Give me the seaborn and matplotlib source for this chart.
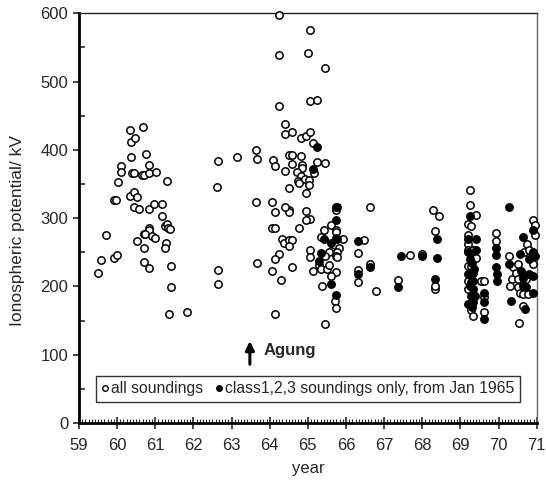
import numpy as np
import pandas as pd
import matplotlib
matplotlib.use("Agg")
import matplotlib.pyplot as plt
import seaborn as sns
from matplotlib.lines import Line2D
from matplotlib.ticker import MultipleLocator

# ---- data: all soundings (open circles) ----
open_year = [
    59.50, 59.57, 59.70, 59.91, 60.00, 59.91, 59.96, 60.02, 60.09, 60.10, 60.33, 60.37, 60.46, 60.67,
    60.36, 60.40, 60.43, 60.35, 60.44, 60.53, 60.45, 60.58, 60.66, 60.70, 60.75, 60.83, 60.83, 61.01,
    60.83, 60.96, 61.18, 61.30, 61.17, 61.26, 61.30, 61.33, 61.39, 60.83, 60.83, 60.70, 60.74, 60.91,
    61.00, 60.53, 60.71, 61.27, 61.25, 60.71, 60.83, 61.41, 61.41, 61.35, 61.82, 62.64, 62.62, 62.64,
    62.64,
    63.13, 63.64, 63.67, 63.65, 63.67, 64.05, 64.15, 64.06, 64.15, 64.25, 64.15, 64.06, 64.30, 64.15,
    64.08, 64.15, 64.24, 64.24, 64.24, 64.39, 64.39, 64.58, 64.83, 64.94, 65.06, 65.06, 65.00, 65.45,
    65.06, 65.24, 65.13, 64.51, 64.58, 64.58, 64.83, 64.84, 64.84, 65.25, 65.45, 65.15, 64.39, 64.72,
    64.82, 64.75, 64.78, 64.92, 65.04, 65.04, 64.96, 64.51, 64.51, 64.51, 64.39, 64.96, 65.06, 64.96,
    64.78, 64.33, 64.38, 64.51, 64.58, 64.51, 64.58, 65.06, 65.06, 65.13, 65.45,
    65.73, 65.42, 65.60, 65.73, 65.73, 65.34, 65.93, 65.82, 65.60, 65.56, 65.77, 65.73, 65.77, 65.44,
    65.28, 65.34, 65.51, 65.56, 65.73, 65.60, 65.36, 65.71, 65.73,
    66.47, 66.32, 66.32, 66.32, 66.63, 66.64, 66.78, 67.68, 67.99, 67.36, 68.27, 68.45, 68.33, 68.34,
    68.33,
    69.26, 69.26, 69.40, 69.20, 69.29, 69.20, 69.20, 69.20, 69.24, 69.33, 69.40, 69.20, 69.29, 69.20,
    69.20, 69.29, 69.33, 69.55, 69.62, 69.62, 69.62, 69.92, 69.92, 70.27, 70.36, 70.29, 70.53,
    70.39, 70.51, 70.68, 70.74, 70.81, 70.89, 70.89, 70.46, 70.50, 70.72, 70.50, 70.55, 70.63, 70.76,
    70.63, 70.95, 70.95,
]
open_kv = [
    220, 239, 276, 242, 246, 327, 327, 353, 376, 367, 429, 411, 418, 434,
    390, 366, 366, 333, 339, 331, 316, 313, 363, 363, 394, 378, 366, 367,
    314, 320, 321, 354, 303, 288, 292, 286, 284, 286, 282, 277, 277, 274,
    271, 266, 257, 264, 257, 236, 227, 230, 199, 160, 163, 383, 345, 224,
    203,
    390, 400, 386, 323, 235, 323, 309, 286, 286, 248, 240, 222, 210, 159,
    385, 377, 598, 539, 464, 438, 423, 426, 417, 420, 426, 576, 542, 520,
    471, 473, 410, 392, 392, 380, 391, 378, 373, 382, 381, 366, 369, 367,
    361, 355, 351, 357, 356, 348, 337, 344, 312, 309, 316, 310, 299, 297,
    286, 270, 264, 268, 268, 259, 228, 253, 243, 222, 145,
    312, 283, 290, 283, 279, 272, 270, 257, 252, 251, 251, 245, 243, 245,
    232, 225, 225, 232, 221, 216, 201, 179, 168,
    268, 249, 224, 207, 316, 233, 193, 246, 247, 209, 312, 303, 281, 196,
    200,
    341, 319, 304, 291, 288, 276, 262, 254, 250, 254, 241, 230, 230, 208,
    196, 165, 157, 208, 208, 184, 162, 278, 266, 245, 211, 201, 146,
    229, 233, 250, 262, 254, 298, 233, 220, 211, 211, 199, 191, 189, 189,
    172, 290, 275,
]

# ---- data: class 1,2,3 soundings only, from Jan 1965 (filled circles) ----
fill_year = [
    65.25, 65.13,
    65.73, 65.76, 65.73, 65.42, 65.60, 65.73, 65.77, 65.34, 65.28, 65.60, 65.73,
    66.32, 66.32, 66.64, 67.44, 67.99, 67.36, 68.38, 68.38, 68.33,
    69.26, 69.20, 69.42, 69.42, 69.20, 69.20, 69.29, 69.33, 69.29, 69.33, 69.33, 69.38, 69.29, 69.20,
    69.33, 69.25, 69.30, 69.25, 69.35, 69.30,
    69.62, 69.62, 69.62, 69.92, 69.92, 69.92, 69.96, 69.96, 70.27, 70.27, 70.33,
    70.55, 70.65, 70.89, 70.89, 70.59, 70.63, 70.81, 70.89, 70.63, 70.72, 70.89, 70.70, 70.80, 70.95,
]
fill_kv = [
    404, 372,
    317, 317, 298, 269, 263, 271, 269, 249, 237, 203, 188,
    267, 218, 229, 244, 244, 199, 270, 241, 211,
    303, 269, 269, 254, 250, 218, 218, 220, 206, 208, 196, 186, 186, 174,
    177, 240, 235, 200, 225, 170,
    191, 177, 152, 257, 246, 228, 218, 208, 316, 233, 179,
    247, 273, 250, 283, 223, 213, 218, 216, 201, 199, 191, 167, 240, 245,
]

legend_labels = ["all soundings", "class1,2,3 soundings only, from Jan 1965"]

df_open = pd.DataFrame({"year": open_year, "kv": open_kv})
df_fill = pd.DataFrame({"year": fill_year, "kv": fill_kv})

sns.set_style("white")
plt.rcParams["font.family"] = ["Liberation Sans", "DejaVu Sans"]

FS = 12
fig = plt.figure(figsize=(5.46, 4.80), dpi=100)
ax = fig.add_axes([79 / 546, 1 - 423 / 480, (536.7 - 79) / 546, (423 - 13.3) / 480])

sns.scatterplot(data=df_open, x="year", y="kv", ax=ax, marker="o", s=28,
                facecolor="white", edgecolor="black", linewidth=1.1, zorder=3, clip_on=False)
sns.scatterplot(data=df_fill, x="year", y="kv", ax=ax, marker="o", s=28,
                color="black", edgecolor="black", linewidth=1.1, zorder=4, clip_on=False)

ax.set_xlim(59, 71)
ax.set_ylim(0, 600)
ax.xaxis.set_major_locator(MultipleLocator(1))
ax.xaxis.set_minor_locator(MultipleLocator(1 / 12))
ax.yaxis.set_major_locator(MultipleLocator(100))
ax.yaxis.set_minor_locator(MultipleLocator(50))
ax.tick_params(axis="x", which="major", direction="inout", length=8, width=1.2,
               labelsize=FS, pad=6.5, bottom=True)
ax.tick_params(axis="x", which="minor", direction="in", length=3, width=0.8, bottom=True)
ax.tick_params(axis="y", which="major", direction="out", length=4.3, width=1.2,
               labelsize=FS, left=True, pad=3.5)
ax.tick_params(axis="y", which="minor", direction="in", length=4, width=1.2, left=True)
ax.set_xticklabels([str(int(t)) for t in ax.get_xticks()])

for side in ["left", "bottom"]:
    ax.spines[side].set_linewidth(2.0)
    ax.spines[side].set_color("black")
ax.spines["top"].set_linewidth(1.0)
ax.spines["top"].set_color("#222222")
ax.spines["right"].set_linewidth(1.0)
ax.spines["right"].set_color("#666666")

ax.set_xlabel("year", fontsize=FS, labelpad=6)
ax.set_ylabel("Ionospheric potential/ kV", fontsize=12.5)
ax.yaxis.set_label_coords(-0.118, 0.471)

# Agung annotation
ax.annotate("", xy=(63.48, 124), xytext=(63.48, 82),
            arrowprops=dict(arrowstyle="-|>", color="black", lw=2.2, mutation_scale=13))
ax.text(63.83, 106, "Agung", fontsize=FS, fontweight="bold", va="center", ha="left")

handles = [
    Line2D([], [], marker="o", linestyle="none", markersize=4, markerfacecolor="white",
           markeredgecolor="black", markeredgewidth=1.0),
    Line2D([], [], marker="o", linestyle="none", markersize=4, markerfacecolor="black",
           markeredgecolor="black", markeredgewidth=1.0),
]
leg = ax.legend(handles, legend_labels, loc="center", bbox_to_anchor=(0.5, 0.083), ncol=2,
                frameon=True, fancybox=False, fontsize=11.3, handletextpad=0.15,
                columnspacing=0.8, handlelength=0.45, borderpad=0.35, borderaxespad=0)
leg.get_frame().set_edgecolor("black")
leg.get_frame().set_linewidth(1.0)

fig.savefig("out.png", dpi=100)
